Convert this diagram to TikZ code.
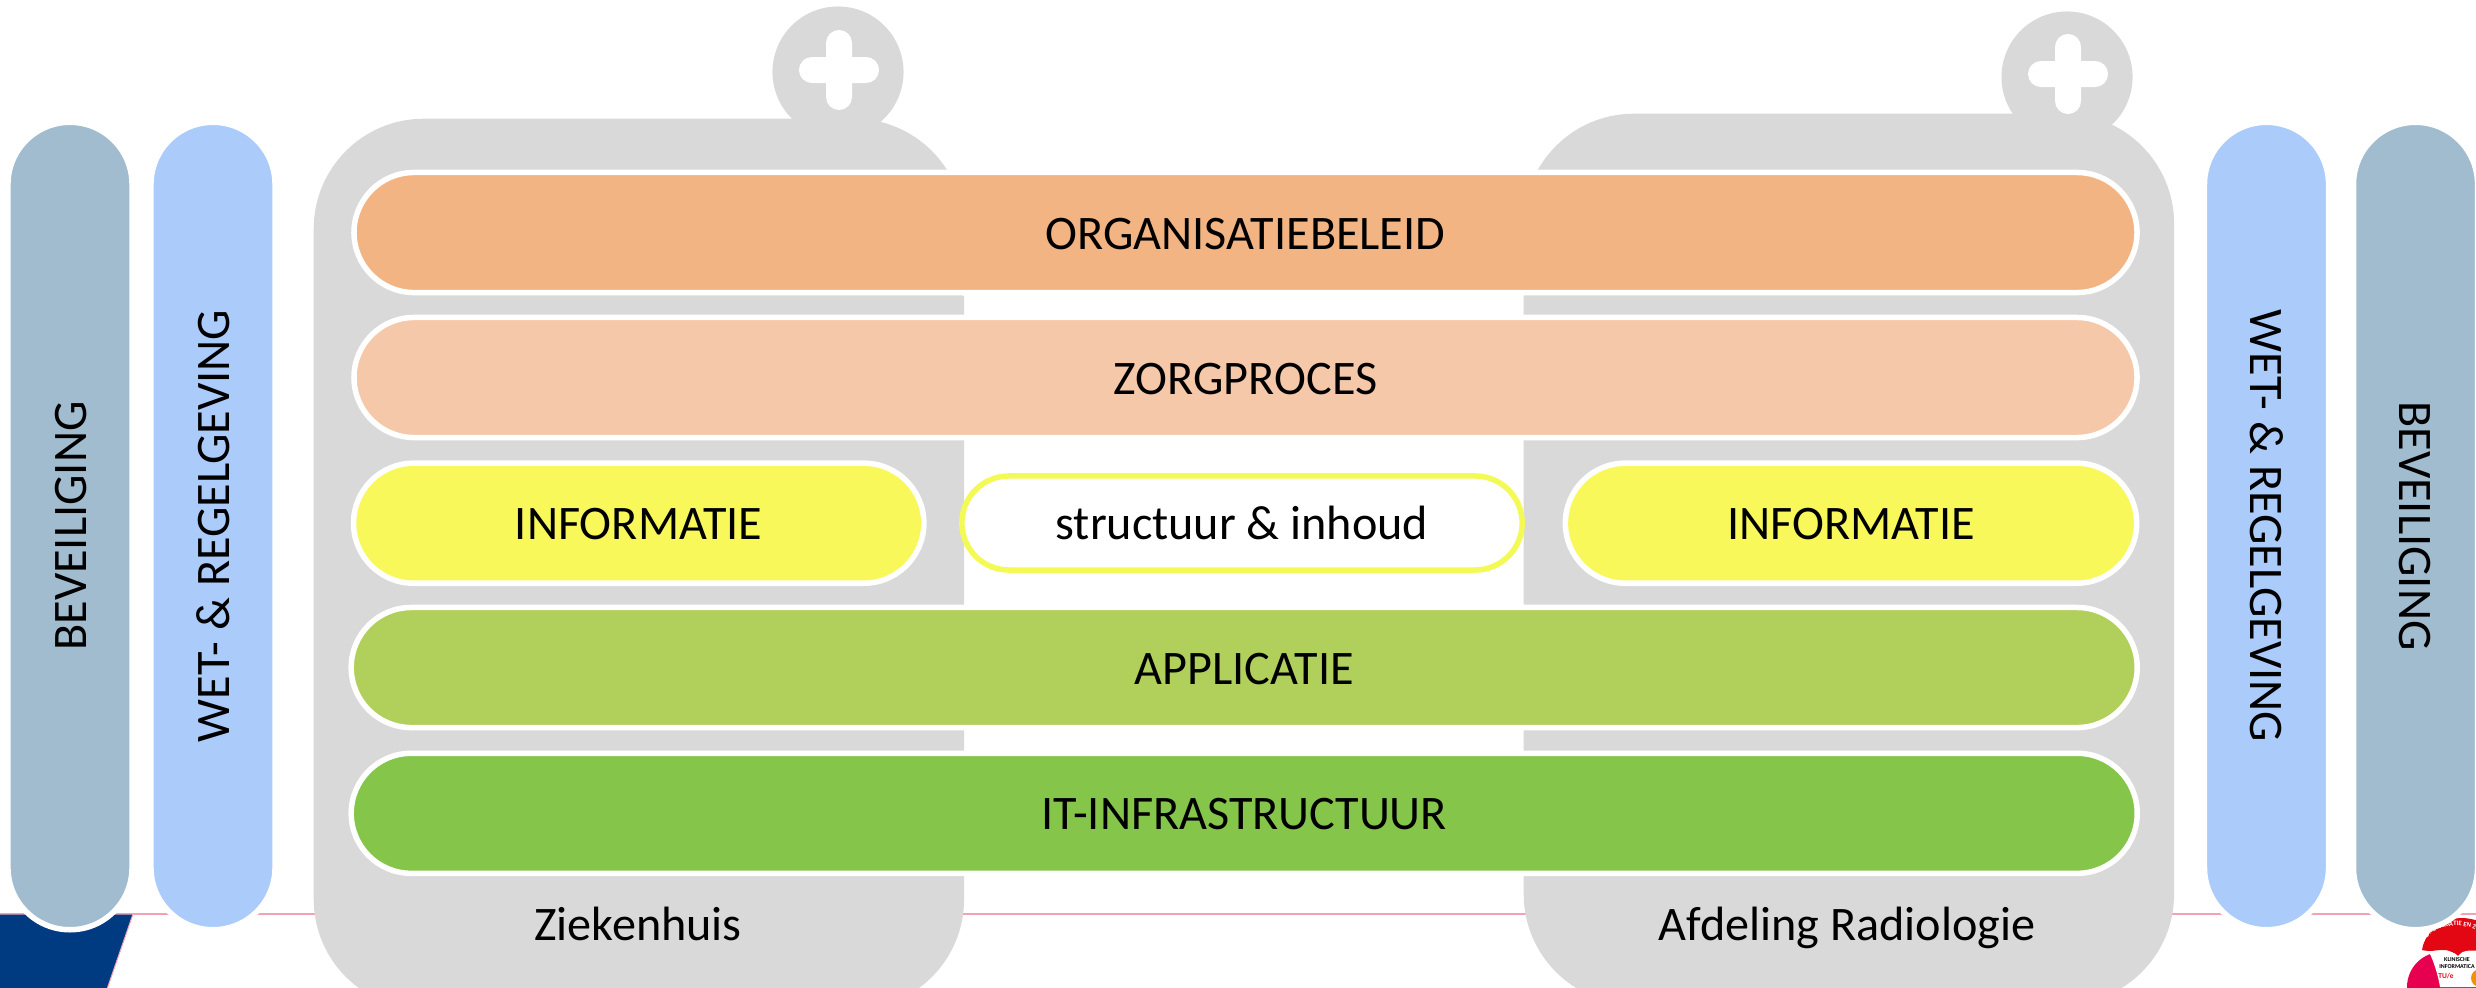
\documentclass[tikz,border=0pt]{standalone}
\usepackage{fontspec}
\setmainfont{Carlito}
\usepackage{tikz}
\usetikzlibrary{shapes,decorations.text}
\definecolor{greybox}{HTML}{D9D9D9}
\definecolor{beleid}{HTML}{F2B482}
\definecolor{proces}{HTML}{F4C8A8}
\definecolor{info}{HTML}{F9F85A}
\definecolor{infoline}{HTML}{F4FA55}
\definecolor{appl}{HTML}{B1CF5B}
\definecolor{infra}{HTML}{84C54A}
\definecolor{wet}{HTML}{ABCBFA}
\definecolor{bev}{HTML}{A2BCCF}
\definecolor{pinkline}{HTML}{F4A0B5}
\definecolor{navy}{HTML}{003A80}
\definecolor{logored}{HTML}{E30613}
\definecolor{logomag}{HTML}{E6004F}
\definecolor{logoor}{HTML}{F39200}
\tikzstyle{labeltext}=[text height=.33cm,text depth=0cm,font=\fontsize{13.7}{16}\selectfont]
\tikzstyle{layer}=[labeltext,rounded rectangle,draw=white,line width=.055cm,inner sep=0pt,minimum height=1.2cm]
\tikzstyle{side}=[layer,minimum height=1.24cm,minimum width=8.07cm]
\tikzstyle{org}=[rectangle,fill=greybox,rounded corners=1.1cm,minimum width=6.5cm,minimum height=8.9cm]
\tikzstyle{screwhead}=[circle,fill=greybox,minimum size=1.31cm,inner sep=0pt]
\tikzstyle{plusbar}=[rectangle,fill=white,rounded corners=.13cm,inner sep=0pt]

\begin{document}
\begin{tikzpicture}[x=.01cm,y=-.01cm]
        \clip (0,0) rectangle (2476,987);
        \fill[white] (0,0) rectangle (2476,987);
        % footer
        \draw[pinkline,line width=.025cm] (0,914) -- (2476,914);
        \fill[navy,draw=pinkline,line width=.01cm] (-5,914) -- (133,914) -- (106,992) -- (-5,992) -- cycle;
        % logo
        \fill[logomag] (2442,987) circle (35);
        \fill[logored] (2422,950) .. controls (2425,930) and (2445,918) .. (2462,918) .. controls (2470,918) and (2480,921) .. (2490,925) -- (2490,951) -- (2470,951) .. controls (2462,951) and (2460,956) .. (2458,956) .. controls (2456,956) and (2452,950) .. (2444,950) .. controls (2436,950) and (2430,952) .. (2422,950) -- cycle;
        \fill[white] (2429,952) .. controls (2436,950) and (2452,949) .. (2458,956) .. controls (2462,950) and (2470,950) .. (2480,951) -- (2480,987) -- (2440,987) .. controls (2438,975) and (2434,962) .. (2429,952) -- cycle;
        \fill[logoor] (2480,978) circle (9);
        \path[decorate,decoration={text along path,text align=center,text={|\fontsize{1.9}{2}\selectfont\bfseries\color{white}|ORGANISATIE EN ZORG}}] (2425,941) .. controls (2435,924) and (2460,920) .. (2490,935);
        \node[inner sep=0pt,font=\fontsize{1.7}{2.1}\selectfont\bfseries,align=center] (logotext) at (2457,963) {KLINISCHE\\INFORMATICA};
        \node[inner sep=0pt,text=logored,font=\fontsize{2.1}{3}\selectfont\bfseries] (logotue) at (2446,976) {TU/e};
        % grey boxes
        \node[screwhead] (screwa) at (838,72) {};
        \node[screwhead] (screwb) at (2067,77) {};
        \node[org,anchor=north west] (zkh) at (313,118) {};
        \node[org,anchor=north west] (rad) at (1523,113) {};
        \node[plusbar,minimum width=.8cm,minimum height=.26cm] (pluswa) at (839,70) {};
        \node[plusbar,minimum width=.26cm,minimum height=.8cm] (plusha) at (839,70) {};
        \node[plusbar,minimum width=.8cm,minimum height=.26cm] (pluswb) at (2068,74) {};
        \node[plusbar,minimum width=.26cm,minimum height=.8cm] (plushb) at (2068,74) {};
        % white middle part
        \fill[white] (963,170) rectangle (1523,296);
        % layers
        \node[layer,fill=beleid,minimum width=17.82cm] (beleidlaag) at (1245.5,232.5) {ORGANISATIEBELEID};
        \node[layer,fill=proces,minimum width=17.82cm] (proceslaag) at (1245.5,377.5) {ZORGPROCES};
        \node[layer,fill=info,minimum width=5.7cm] (infoa) at (638.7,523.2) {INFORMATIE};
        \node[layer,fill=white,draw=infoline,minimum width=5.6cm,minimum height=.94cm] (inhoud) at (1242,523) {structuur \& inhoud};
        \node[layer,fill=info,minimum width=5.71cm] (infob) at (1851,523.2) {INFORMATIE};
        \node[layer,fill=appl,minimum width=17.85cm] (appllaag) at (1244.2,667.5) {APPLICATIE};
        \node[layer,fill=infra,minimum width=17.85cm] (infralaag) at (1244.2,813.3) {IT-INFRASTRUCTUUR};
        % side bars
        \node[side,fill=bev,rotate=90] (beva) at (70,526) {BEVEILIGING};
        \node[side,fill=wet,rotate=90] (weta) at (213,526) {WET- \& REGELGEVING};
        \node[side,fill=wet,rotate=-90] (wetb) at (2266.5,526) {WET- \& REGELGEVING};
        \node[side,fill=bev,rotate=-90] (bevb) at (2415.5,526) {BEVEILIGING};
        % labels
        \node[labeltext] (zkhlabel) at (638,924) {Ziekenhuis};
        \node[labeltext] (radlabel) at (1847,924) {Afdeling Radiologie};
      \end{tikzpicture}
\end{document}
